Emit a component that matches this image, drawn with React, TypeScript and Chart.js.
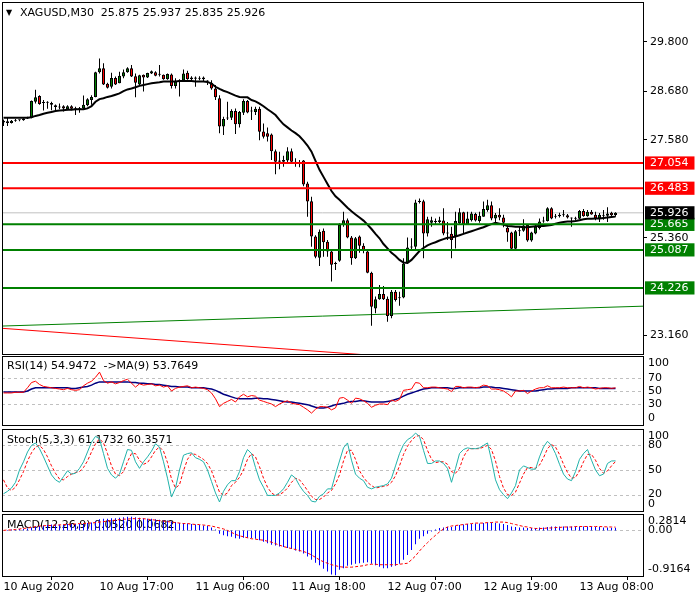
import React, { useEffect, useRef } from 'react';
import { Chart, registerables } from 'chart.js';

Chart.register(...registerables);

// ---------------- Text ----------------
const SYMBOL_TITLE = 'XAGUSD,M30  25.875 25.937 25.835 25.926';
const RSI_TITLE = 'RSI(14) 54.9472  ->MA(9) 53.7649';
const STOCH_TITLE = 'Stoch(5,3,3) 61.1732 60.3571';
const MACD_TITLE = 'MACD(12,26,9) 0.0520 0.0682';

// ---------------- Time axis (bar index -> label) ----------------
const TIME_TICK_BARS = [0, 24, 48, 72, 96, 120, 144];
const TIME_TICK_LABELS = ['10 Aug 2020', '10 Aug 17:00', '11 Aug 06:00', '11 Aug 18:00', '12 Aug 07:00', '12 Aug 19:00', '13 Aug 08:00'];

// ---------------- Candles (M30) ----------------
const OPEN = [
  27.97, 28.00, 27.96, 28.01, 28.02, 28.02, 28.06, 28.08, 28.44, 28.57,
  28.41, 28.43, 28.41, 28.36, 28.33, 28.34, 28.27, 28.34, 28.29, 28.27,
  28.29, 28.36, 28.48, 28.55, 29.11, 29.20, 28.85, 28.78, 28.98, 28.86,
  29.01, 29.11, 29.20, 29.02, 28.83, 29.05, 28.99, 29.08, 29.11, 29.05,
  29.05, 28.95, 29.06, 28.80, 28.93, 28.92, 29.10, 28.95, 28.99, 28.96,
  28.99, 28.92, 28.87, 28.74, 28.52, 27.88, 28.06, 28.08, 28.23, 27.93,
  28.19, 28.46, 28.22, 28.21, 28.28, 27.77, 27.73, 27.70, 27.32, 27.11,
  27.12, 27.11, 27.32, 27.08, 27.06, 27.11, 26.59, 26.19, 25.39, 24.91,
  25.52, 25.27, 25.05, 24.78, 24.84, 25.65, 25.76, 25.37, 24.90, 25.39,
  25.18, 25.05, 24.57, 23.76, 23.97, 24.09, 23.98, 23.59, 24.14, 23.99,
  24.01, 24.80, 25.14, 25.16, 26.17, 26.19, 25.46, 25.70, 25.74, 25.72,
  25.75, 25.46, 25.45, 25.40, 25.69, 25.94, 25.67, 25.76, 25.90, 25.74,
  25.84, 25.99, 26.10, 25.80, 25.88, 25.82, 25.59, 25.48, 25.11, 25.51,
  25.52, 25.65, 25.30, 25.46, 25.58, 25.73, 25.74, 26.03, 25.85, 25.85,
  25.87, 25.87, 25.82, 25.80, 25.79, 25.97, 25.85, 25.95, 25.88, 25.80,
  25.88, 25.86, 25.93, 25.875,
];
const HIGH = [
  28.04, 28.09, 28.03, 28.05, 28.04, 28.07, 28.10, 28.47, 28.71, 28.59,
  28.48, 28.45, 28.44, 28.38, 28.40, 28.36, 28.36, 28.36, 28.33, 28.32,
  28.58, 28.52, 28.59, 29.12, 29.42, 29.31, 28.87, 29.10, 29.01, 29.12,
  29.17, 29.22, 29.27, 29.08, 29.05, 29.06, 29.10, 29.15, 29.13, 29.27,
  29.06, 29.08, 29.08, 28.97, 28.95, 29.17, 29.14, 29.02, 29.01, 29.02,
  29.01, 28.93, 28.93, 28.82, 28.59, 28.10, 28.44, 28.27, 28.29, 28.23,
  28.50, 28.48, 28.33, 28.33, 28.33, 27.95, 27.86, 27.72, 27.36, 27.31,
  27.22, 27.41, 27.38, 27.16, 27.12, 27.12, 26.63, 26.29, 25.42, 25.55,
  25.57, 25.31, 25.10, 24.82, 25.69, 25.95, 25.80, 25.40, 25.38, 25.41,
  25.24, 25.09, 24.59, 24.03, 24.29, 24.27, 24.03, 24.18, 24.18, 24.14,
  24.90, 25.37, 25.35, 26.22, 26.25, 26.22, 25.84, 25.84, 25.80, 25.84,
  26.03, 25.72, 25.61, 25.95, 26.03, 25.95, 25.95, 25.95, 25.93, 25.95,
  26.18, 26.22, 26.18, 25.92, 26.03, 25.88, 25.61, 25.50, 25.54, 25.61,
  25.78, 25.67, 25.50, 25.65, 25.80, 25.84, 26.05, 26.05, 25.90, 25.93,
  25.99, 25.90, 25.82, 25.84, 25.99, 26.01, 25.99, 25.99, 25.95, 25.92,
  25.99, 26.05, 25.95, 25.937,
];
const LOW = [
  27.89, 27.89, 27.95, 27.99, 28.00, 28.01, 28.05, 28.07, 28.40, 28.37,
  28.24, 28.28, 28.25, 28.24, 28.27, 28.22, 28.25, 28.25, 28.14, 28.19,
  28.27, 28.34, 28.37, 28.54, 29.08, 28.82, 28.74, 28.74, 28.82, 28.86,
  28.97, 29.10, 29.00, 28.54, 28.82, 28.67, 28.98, 29.07, 29.02, 29.01,
  28.94, 28.94, 28.74, 28.74, 28.56, 28.90, 28.94, 28.92, 28.78, 28.93,
  28.90, 28.82, 28.71, 28.48, 27.73, 27.69, 28.03, 28.03, 27.71, 27.86,
  28.14, 28.18, 28.03, 28.14, 27.57, 27.61, 27.54, 27.12, 26.80, 26.91,
  26.97, 27.05, 27.03, 26.97, 26.96, 26.53, 25.84, 25.16, 24.90, 24.72,
  24.93, 24.93, 24.37, 24.63, 24.82, 25.61, 25.35, 24.75, 24.88, 25.02,
  25.01, 24.56, 23.37, 23.65, 23.96, 23.95, 23.46, 23.54, 23.92, 23.82,
  23.99, 24.78, 25.08, 25.08, 26.14, 24.90, 25.39, 25.61, 25.67, 25.69,
  25.42, 25.31, 24.90, 25.12, 25.67, 25.46, 25.65, 25.73, 25.73, 25.70,
  25.84, 25.95, 25.76, 25.70, 25.76, 25.60, 25.27, 25.10, 25.10, 25.40,
  25.50, 25.27, 25.27, 25.44, 25.55, 25.70, 25.73, 25.78, 25.80, 25.82,
  25.84, 25.80, 25.61, 25.76, 25.78, 25.84, 25.84, 25.88, 25.76, 25.72,
  25.77, 25.72, 25.84, 25.835,
];
const CLOSE = [
  28.01, 27.96, 28.01, 28.02, 28.02, 28.06, 28.08, 28.46, 28.54, 28.39,
  28.43, 28.42, 28.37, 28.32, 28.31, 28.29, 28.34, 28.28, 28.27, 28.28,
  28.37, 28.50, 28.55, 29.11, 29.20, 28.83, 28.76, 28.98, 28.83, 29.03,
  29.11, 29.20, 29.01, 28.87, 29.04, 28.99, 29.09, 29.13, 29.03, 29.05,
  28.95, 29.07, 28.80, 28.90, 28.90, 29.08, 28.95, 28.99, 28.96, 28.98,
  28.95, 28.90, 28.74, 28.54, 27.88, 28.05, 28.08, 28.23, 27.93, 28.21,
  28.46, 28.20, 28.23, 28.28, 27.76, 27.65, 27.65, 27.32, 27.08, 27.08,
  27.08, 27.32, 27.08, 27.05, 27.05, 26.57, 26.18, 25.39, 24.93, 25.50,
  25.26, 25.05, 24.75, 24.77, 25.65, 25.76, 25.37, 24.90, 25.35, 25.18,
  25.08, 24.57, 23.80, 23.97, 24.09, 23.97, 23.59, 24.14, 23.95, 24.00,
  24.78, 25.14, 25.16, 26.16, 26.20, 25.46, 25.78, 25.76, 25.72, 25.76,
  25.46, 25.48, 25.31, 25.74, 25.94, 25.67, 25.80, 25.91, 25.75, 25.86,
  26.01, 26.10, 25.80, 25.88, 25.82, 25.70, 25.48, 25.11, 25.51, 25.52,
  25.64, 25.30, 25.48, 25.61, 25.73, 25.74, 26.03, 25.80, 25.84, 25.88,
  25.87, 25.82, 25.80, 25.79, 25.97, 25.85, 25.95, 25.89, 25.80, 25.88,
  25.86, 25.91, 25.87, 25.926,
];
// Moving average drawn on the price chart
const PRICE_MA = [
  28.08, 28.08, 28.08, 28.08, 28.08, 28.08, 28.08, 28.09, 28.12, 28.14,
  28.17, 28.19, 28.21, 28.23, 28.24, 28.25, 28.26, 28.26, 28.27, 28.27,
  28.27, 28.29, 28.34, 28.44, 28.50, 28.52, 28.55, 28.57, 28.60, 28.63,
  28.68, 28.72, 28.74, 28.77, 28.80, 28.82, 28.84, 28.86, 28.87, 28.88,
  28.90, 28.90, 28.90, 28.90, 28.91, 28.91, 28.91, 28.91, 28.90, 28.90,
  28.90, 28.89, 28.85, 28.78, 28.73, 28.69, 28.66, 28.62, 28.58, 28.55,
  28.54, 28.54, 28.48, 28.45, 28.40, 28.34, 28.27, 28.21, 28.14, 28.03,
  27.93, 27.86, 27.79, 27.73, 27.66, 27.56, 27.45, 27.31, 27.10, 26.90,
  26.74, 26.58, 26.42, 26.30, 26.22, 26.13, 26.04, 25.96, 25.89, 25.82,
  25.75, 25.66, 25.56, 25.45, 25.35, 25.22, 25.12, 25.02, 24.95, 24.86,
  24.80, 24.79, 24.86, 24.96, 25.06, 25.13, 25.19, 25.23, 25.26, 25.30,
  25.33, 25.36, 25.37, 25.39, 25.42, 25.45, 25.48, 25.51, 25.54, 25.57,
  25.60, 25.64, 25.67, 25.70, 25.68, 25.66, 25.63, 25.62, 25.61, 25.61,
  25.60, 25.60, 25.61, 25.62, 25.63, 25.63, 25.64, 25.65, 25.68, 25.70,
  25.72, 25.73, 25.73, 25.74, 25.76, 25.78, 25.79, 25.79, 25.80, 25.80,
  25.81, 25.82, 25.83, 25.84,
];

// ---------------- Price levels & trend lines ----------------
const PRICE_TICKS = [29.8, 28.68, 27.58, 25.36, 23.16];
const RESISTANCE_LEVELS = [27.054, 26.483];
const SUPPORT_LEVELS = [25.665, 25.087, 24.226];
const BID_PRICE = 25.926;
const GREEN_TREND = [[-1, 23.361], [160, 23.813]];
const RED_TREND = [[-1, 23.316], [160, 22.252]];

// ---------------- RSI(14) and its MA(9) ----------------
const RSI = [
  47, 47, 47, 48, 48, 48, 55, 63, 65, 60,
  57, 56, 55, 54, 53, 52, 54, 52, 51, 52,
  58, 62, 65, 71, 79, 66, 62, 64, 61, 63,
  66, 68, 62, 56, 61, 59, 60, 61, 58, 59,
  56, 58, 50, 54, 56, 57, 58, 55, 56, 55,
  54, 52, 47, 38, 26, 31, 34, 37, 33, 41,
  45, 41, 43, 42, 36, 34, 32, 30, 26, 30,
  33, 35, 31, 30, 29, 25, 21, 16, 22, 26,
  26, 25, 21, 24, 39, 40, 36, 31, 39, 38,
  35, 31, 25, 28, 30, 30, 29, 36, 34, 37,
  51, 52, 53, 63, 62, 55, 55, 56, 56, 55,
  54, 53, 49, 57, 57, 55, 56, 56, 55, 56,
  59, 58, 53, 53, 52, 50, 46, 41, 50, 50,
  51, 46, 50, 53, 55, 55, 58, 55, 55, 55,
  56, 55, 55, 55, 57, 55, 56, 55, 53, 54,
  55, 55, 54, 54.9472,
];
const RSI_MA = [
  48.4, 48.4, 48.4, 48.4, 48.4, 48.4, 50, 53, 55, 55,
  55, 55, 55, 55, 55, 55, 55, 54, 54, 55,
  56, 57, 59, 62, 64, 64, 64, 64, 64, 64,
  64, 64, 63, 63, 62, 62, 61, 61, 60, 60,
  59, 58, 57, 57, 56, 56, 56, 55, 55, 55,
  55, 54, 53, 51, 48, 45, 43, 41, 39, 38,
  38, 38, 38, 39, 39, 38, 38, 37, 36, 35,
  34, 33, 33, 32, 31, 30, 29, 27, 25, 24,
  24, 25, 27, 29, 30, 31, 33, 34, 34, 35,
  35, 34, 33, 33, 33, 33, 34, 35, 37, 39,
  42, 45, 47, 49, 51, 53, 54, 55, 55, 55,
  55, 55, 54, 54, 55, 55, 55, 55, 55, 55,
  56, 56, 56, 55, 55, 54, 53, 52, 51, 50,
  50, 50, 50, 50, 51, 52, 53, 53, 54, 54,
  54, 54, 55, 55, 55, 55, 55, 55, 55, 54,
  54, 54, 54, 53.7649,
];
const RSI_TICKS = [100, 70, 50, 30, 0];
const RSI_LEVELS = [70, 50, 30];

// ---------------- Stochastic(5,3,3) ----------------
const STOCH_MAIN = [
  21, 24, 28, 35, 50, 60, 72, 80, 83, 76,
  66, 55, 44, 38, 35, 42, 49, 45, 46, 52,
  60, 72, 84, 91, 88, 70, 52, 44, 40, 45,
  60, 75, 74, 60, 52, 60, 66, 73, 82, 78,
  60, 40, 17, 28, 50, 68, 70, 71, 65, 63,
  60, 50, 36, 22, 11, 24, 32, 37, 37, 48,
  65, 75, 70, 53, 38, 29, 19, 19, 19, 22,
  27, 35, 44, 40, 31, 24, 19, 12, 11, 18,
  21, 27, 27, 45, 61, 77, 83, 62, 45, 40,
  37, 29, 27, 29, 30, 31, 33, 40, 55, 70,
  81, 87, 90, 95, 91, 74, 58, 58, 61, 61,
  58, 52, 35, 52, 70, 75, 77, 76, 76, 77,
  80, 83, 62, 38, 26, 20, 15, 22, 31, 50,
  55, 53, 51, 51, 66, 78, 85, 80, 70, 57,
  45, 39, 37, 48, 63, 70, 75, 62, 50, 43,
  45, 58, 61, 61.1732,
];
const STOCH_SIGNAL = [
  38, 28, 25, 29, 38, 48, 61, 71, 78, 80,
  75, 66, 55, 46, 39, 38, 42, 45, 47, 48,
  53, 61, 72, 82, 88, 83, 70, 55, 45, 43,
  48, 60, 70, 70, 62, 57, 59, 66, 74, 78,
  73, 59, 39, 28, 32, 49, 63, 70, 69, 66,
  63, 58, 49, 36, 23, 19, 22, 31, 35, 41,
  50, 63, 70, 66, 54, 40, 29, 22, 19, 20,
  23, 28, 35, 40, 38, 32, 25, 18, 14, 14,
  17, 22, 25, 33, 44, 61, 74, 74, 63, 49,
  41, 35, 31, 28, 29, 30, 31, 35, 43, 55,
  69, 79, 86, 91, 92, 87, 74, 63, 59, 60,
  60, 57, 48, 46, 52, 66, 74, 76, 76, 76,
  78, 80, 75, 61, 42, 28, 20, 19, 23, 34,
  45, 53, 53, 52, 56, 65, 76, 81, 78, 69,
  57, 47, 40, 41, 49, 60, 69, 69, 62, 52,
  46, 49, 55, 60.3571,
];
const STOCH_TICKS = [100, 80, 50, 20, 0];
const STOCH_LEVELS = [80, 50, 20];

// ---------------- MACD(12,26,9) ----------------
const MACD_MAIN = [
  0.00, 0.01, 0.02, 0.02, 0.03, 0.03, 0.04, 0.06, 0.08, 0.09,
  0.10, 0.11, 0.12, 0.12, 0.12, 0.12, 0.13, 0.13, 0.13, 0.13,
  0.14, 0.15, 0.16, 0.19, 0.23, 0.24, 0.24, 0.25, 0.25, 0.26,
  0.27, 0.28, 0.2814, 0.27, 0.26, 0.25, 0.24, 0.24, 0.23, 0.22,
  0.21, 0.20, 0.18, 0.17, 0.15, 0.15, 0.14, 0.13, 0.12, 0.11,
  0.10, 0.09, 0.06, 0.02, -0.07, -0.10, -0.12, -0.13, -0.16, -0.17,
  -0.15, -0.15, -0.16, -0.17, -0.20, -0.23, -0.26, -0.29, -0.31, -0.33,
  -0.34, -0.36, -0.38, -0.41, -0.43, -0.47, -0.53, -0.60, -0.66, -0.71,
  -0.78, -0.84, -0.90, -0.9164, -0.80, -0.77, -0.72, -0.70, -0.68, -0.67,
  -0.66, -0.65, -0.68, -0.71, -0.74, -0.77, -0.77, -0.74, -0.72, -0.68,
  -0.60, -0.50, -0.40, -0.28, -0.17, -0.12, -0.07, -0.02, 0.02, 0.05,
  0.06, 0.07, 0.07, 0.09, 0.11, 0.12, 0.13, 0.13, 0.14, 0.14,
  0.15, 0.16, 0.16, 0.15, 0.14, 0.13, 0.11, 0.08, 0.07, 0.06,
  0.06, 0.05, 0.05, 0.05, 0.06, 0.06, 0.07, 0.08, 0.08, 0.08,
  0.08, 0.08, 0.08, 0.08, 0.08, 0.08, 0.08, 0.08, 0.07, 0.07,
  0.06, 0.06, 0.055, 0.052,
];
const MACD_SIGNAL = [
  0.00, 0.01, 0.01, 0.02, 0.03, 0.04, 0.05, 0.06, 0.08, 0.09,
  0.095, 0.10, 0.10, 0.11, 0.11, 0.12, 0.12, 0.13, 0.13, 0.14,
  0.14, 0.15, 0.15, 0.16, 0.17, 0.18, 0.19, 0.20, 0.21, 0.22,
  0.23, 0.23, 0.24, 0.24, 0.24, 0.24, 0.23, 0.22, 0.21, 0.20,
  0.19, 0.18, 0.17, 0.16, 0.15, 0.14, 0.14, 0.13, 0.12, 0.12,
  0.11, 0.10, 0.09, 0.07, 0.05, 0.03, 0.00, -0.04, -0.08, -0.11,
  -0.13, -0.15, -0.17, -0.18, -0.19, -0.20, -0.22, -0.24, -0.27, -0.30,
  -0.33, -0.35, -0.37, -0.39, -0.41, -0.43, -0.46, -0.50, -0.55, -0.60,
  -0.64, -0.67, -0.70, -0.72, -0.74, -0.75, -0.75, -0.75, -0.74, -0.73,
  -0.72, -0.70, -0.69, -0.69, -0.70, -0.70, -0.70, -0.70, -0.70, -0.69,
  -0.68, -0.67, -0.60, -0.52, -0.42, -0.33, -0.25, -0.17, -0.10, -0.03,
  0.03, 0.07, 0.09, 0.10, 0.11, 0.12, 0.13, 0.14, 0.15, 0.15,
  0.15, 0.16, 0.16, 0.17, 0.17, 0.17, 0.16, 0.14, 0.12, 0.10,
  0.08, 0.07, 0.05, 0.04, 0.04, 0.04, 0.05, 0.05, 0.06, 0.06,
  0.07, 0.07, 0.07, 0.08, 0.08, 0.08, 0.08, 0.08, 0.08, 0.08,
  0.075, 0.072, 0.07, 0.0682,
];
const MACD_TICKS = [0.2814, 0, -0.9164];
const MACD_LEVELS = [0];

// ---------------- Styling / layout ----------------
const FONT_FAMILY = '"DejaVu Sans"';
const X_MIN = -0.375;
const X_MAX = 159.875;
const PRICE_MIN = 22.73;
const PRICE_MAX = 30.699;
const BULL = '#008000';
const BEAR = '#FF0000';
const RES_COLOR = '#FF0000';
const SUP_COLOR = '#008000';

const pts = (arr: number[]) => arr.map((y, i) => ({ x: i, y }));

const lineDs = (data: any[], color: string, width: number, order: number, dash?: number[]) => ({
  type: 'line',
  data,
  borderColor: color,
  backgroundColor: color,
  borderWidth: width,
  borderDash: dash || [],
  pointRadius: 0,
  fill: false,
  tension: 0,
  order,
});

const levelColor = (v: number): string | null => {
  if (v === undefined || v === null) return null;
  if (RESISTANCE_LEVELS.some((l) => Math.abs(l - v) < 1e-6)) return RES_COLOR;
  if (SUPPORT_LEVELS.some((l) => Math.abs(l - v) < 1e-6)) return SUP_COLOR;
  if (Math.abs(BID_PRICE - v) < 1e-6) return '#000000';
  return null;
};

function panelPlugin(cfg: any) {
  return {
    id: 'panelDecor',
    beforeDatasetsDraw(chart: any) {
      const { ctx, chartArea: a } = chart;
      const ys = chart.scales.y;
      ctx.save();
      if (cfg.grid) {
        ctx.strokeStyle = '#C0C0C0';
        ctx.lineWidth = 1;
        ctx.setLineDash([3, 3]);
        cfg.grid.forEach((g: number) => {
          const py = Math.round(ys.getPixelForValue(g)) + 0.5;
          ctx.beginPath();
          ctx.moveTo(a.left, py);
          ctx.lineTo(a.right, py);
          ctx.stroke();
        });
        ctx.setLineDash([]);
      }
      ctx.fillStyle = '#000';
      ctx.textBaseline = 'middle';
      ctx.textAlign = 'left';
      if (cfg.triangle) {
        ctx.font = `8px ${FONT_FAMILY}`;
        ctx.fillText('▼', 6, cfg.titleY);
      }
      ctx.font = `11px ${FONT_FAMILY}`;
      ctx.fillText(cfg.title, cfg.titleX, cfg.titleY);
      ctx.restore();
    },
    afterDraw(chart: any) {
      const { ctx, chartArea: a } = chart;
      ctx.save();
      ctx.strokeStyle = '#000';
      ctx.lineWidth = 1;
      ctx.strokeRect(a.left + 0.5, a.top + 0.5, a.right - a.left, a.bottom - a.top);
      if (cfg.ticks) {
        const ys = chart.scales.y;
        ctx.fillStyle = '#000';
        ctx.font = `11px ${FONT_FAMILY}`;
        ctx.textBaseline = 'middle';
        ctx.textAlign = 'left';
        cfg.ticks.forEach((v: number) => {
          const raw = ys.getPixelForValue(v);
          const py = Math.min(Math.max(raw, a.top + 7), a.bottom - 7);
          ctx.fillText(cfg.fmt(v), a.right + 5, py);
        });
      }
      ctx.restore();
    },
  };
}

const baseOptions = (padding: any) => ({
  responsive: false,
  maintainAspectRatio: false,
  animation: false,
  devicePixelRatio: 1,
  events: [],
  layout: { padding },
  plugins: { legend: { display: false }, tooltip: { enabled: false }, title: { display: false } },
});

const hiddenX = { type: 'linear', display: false, min: X_MIN, max: X_MAX, offset: false };

function mainConfig(): any {
  const levelLine = (v: number, color: string, width: number, order: number) =>
    lineDs([{ x: X_MIN, y: v }, { x: X_MAX, y: v }], color, width, order);
  const trend = (t: number[][], color: string) => lineDs(t.map(([x, y]) => ({ x, y })), color, 1, 9);
  const datasets: any[] = [
    levelLine(BID_PRICE, '#C0C0C0', 1, 10),
    trend(GREEN_TREND, '#008000'),
    trend(RED_TREND, '#FF0000'),
    {
      type: 'bar',
      data: LOW.map((l, i) => ({ x: i, y: [l, HIGH[i]] })),
      backgroundColor: '#000',
      borderWidth: 0,
      barThickness: 1,
      grouped: false,
      inflateAmount: 0,
      order: 8,
    },
    {
      type: 'bar',
      data: OPEN.map((o, i) => ({ x: i, y: [o, CLOSE[i]] })),
      backgroundColor: OPEN.map((o, i) => (CLOSE[i] >= o ? BULL : BEAR)),
      borderColor: '#000',
      borderWidth: 1,
      borderSkipped: false,
      barThickness: 3,
      grouped: false,
      inflateAmount: 0,
      minBarLength: 1,
      order: 7,
    },
    lineDs(pts(PRICE_MA), '#000', 2, 6),
    ...RESISTANCE_LEVELS.map((v) => levelLine(v, RES_COLOR, 2, 5)),
    ...SUPPORT_LEVELS.map((v) => levelLine(v, SUP_COLOR, 2, 5)),
  ];
  return {
    type: 'bar',
    data: { datasets },
    options: {
      ...baseOptions({ left: 2, right: 0, top: 2, bottom: 2 }),
      scales: {
        x: hiddenX,
        y: {
          type: 'linear',
          position: 'right',
          min: PRICE_MIN,
          max: PRICE_MAX,
          afterBuildTicks: (s: any) => {
            s.ticks = [...PRICE_TICKS, ...RESISTANCE_LEVELS, BID_PRICE, ...SUPPORT_LEVELS]
              .sort((a, b) => a - b)
              .map((value) => ({ value }));
          },
          afterFit: (s: any) => {
            s.width = 57;
            s.paddingTop = 0;
            s.paddingBottom = 0;
          },
          ticks: {
            autoSkip: false,
            padding: 3,
            font: { family: FONT_FAMILY, size: 11 },
            color: (c: any) => (levelColor(c.tick && c.tick.value) ? '#FFFFFF' : '#000000'),
            showLabelBackdrop: (c: any) => !!levelColor(c.tick && c.tick.value),
            backdropColor: (c: any) => levelColor(c.tick && c.tick.value) || 'rgba(0,0,0,0)',
            backdropPadding: { top: 0, bottom: 0, left: 5, right: 6 },
            callback: (v: any) => Number(v).toFixed(3),
          },
          grid: {
            display: true,
            drawOnChartArea: false,
            drawTicks: true,
            tickLength: 4,
            color: 'rgba(0,0,0,0)',
            tickColor: (c: any) => (levelColor(c.tick && c.tick.value) ? 'rgba(0,0,0,0)' : '#000000'),
          },
          border: { display: false },
        },
      },
    },
    plugins: [panelPlugin({ title: SYMBOL_TITLE, titleX: 20, titleY: 13, triangle: true })],
  };
}

function rsiConfig(): any {
  return {
    type: 'line',
    data: {
      datasets: [lineDs(pts(RSI_MA), '#000080', 1.5, 2), lineDs(pts(RSI), '#FF0000', 1, 1)],
    },
    options: {
      ...baseOptions({ left: 2, right: 57, top: 1, bottom: 1 }),
      scales: { x: hiddenX, y: { type: 'linear', display: false, min: -2.3, max: 103.8 } },
    },
    plugins: [
      panelPlugin({
        title: RSI_TITLE, titleX: 7, titleY: 11, grid: RSI_LEVELS, ticks: RSI_TICKS,
        fmt: (v: number) => String(v),
      }),
    ],
  };
}

function stochConfig(): any {
  return {
    type: 'line',
    data: {
      datasets: [lineDs(pts(STOCH_SIGNAL), '#FF0000', 1, 2, [3, 2]), lineDs(pts(STOCH_MAIN), '#20B2AA', 1, 1)],
    },
    options: {
      ...baseOptions({ left: 2, right: 57, top: 1, bottom: 2 }),
      scales: { x: hiddenX, y: { type: 'linear', display: false, min: 0, max: 100 } },
    },
    plugins: [
      panelPlugin({
        title: STOCH_TITLE, titleX: 7, titleY: 12, grid: STOCH_LEVELS, ticks: STOCH_TICKS,
        fmt: (v: number) => String(v),
      }),
    ],
  };
}

function macdConfig(): any {
  return {
    type: 'bar',
    data: {
      datasets: [
        {
          type: 'bar',
          data: pts(MACD_MAIN),
          backgroundColor: '#0000FF',
          borderWidth: 0,
          barThickness: 1,
          grouped: false,
          inflateAmount: 0,
          order: 2,
        },
        lineDs(pts(MACD_SIGNAL), '#FF0000', 1, 1, [3, 2]),
      ],
    },
    options: {
      ...baseOptions({ left: 2, right: 57, top: 1, bottom: 0 }),
      scales: {
        x: {
          type: 'linear',
          position: 'bottom',
          min: X_MIN,
          max: X_MAX,
          offset: false,
          afterBuildTicks: (s: any) => {
            s.ticks = TIME_TICK_BARS.map((value) => ({ value }));
          },
          afterFit: (s: any) => {
            s.height = 24;
            s.paddingLeft = 0;
            s.paddingRight = 0;
          },
          ticks: {
            autoSkip: false,
            maxRotation: 0,
            minRotation: 0,
            align: 'start',
            padding: 1,
            color: '#000',
            font: { family: FONT_FAMILY, size: 11 },
            callback: (_v: any, i: number) => TIME_TICK_LABELS[i],
          },
          grid: {
            display: true,
            drawOnChartArea: false,
            drawTicks: true,
            tickLength: 4,
            color: 'rgba(0,0,0,0)',
            tickColor: '#000',
          },
          border: { display: false },
        },
        y: { type: 'linear', display: false, min: -0.93, max: 0.335 },
      },
    },
    plugins: [
      panelPlugin({
        title: MACD_TITLE, titleX: 7, titleY: 12, grid: MACD_LEVELS, ticks: MACD_TICKS,
        fmt: (v: number) => (v === 0 ? '0.00' : v.toFixed(4)),
      }),
    ],
  };
}

export default function App() {
  const mainRef = useRef<HTMLCanvasElement>(null);
  const rsiRef = useRef<HTMLCanvasElement>(null);
  const stochRef = useRef<HTMLCanvasElement>(null);
  const macdRef = useRef<HTMLCanvasElement>(null);

  useEffect(() => {
    const charts: Chart[] = [];
    if (mainRef.current) charts.push(new Chart(mainRef.current, mainConfig()));
    if (rsiRef.current) charts.push(new Chart(rsiRef.current, rsiConfig()));
    if (stochRef.current) charts.push(new Chart(stochRef.current, stochConfig()));
    if (macdRef.current) charts.push(new Chart(macdRef.current, macdConfig()));
    return () => charts.forEach((c) => c.destroy());
  }, []);

  const abs = (top: number): React.CSSProperties => ({ position: 'absolute', left: 0, top, display: 'block' });

  return (
    <div style={{ position: 'fixed', left: 0, top: 0, width: 700, height: 600, background: '#fff', overflow: 'hidden' }}>
      <canvas ref={mainRef} width={700} height={356} style={abs(0)} />
      <canvas ref={rsiRef} width={700} height={71} style={abs(355)} />
      <canvas ref={stochRef} width={700} height={85} style={abs(428)} />
      <canvas ref={macdRef} width={700} height={87} style={abs(513)} />
    </div>
  );
}
